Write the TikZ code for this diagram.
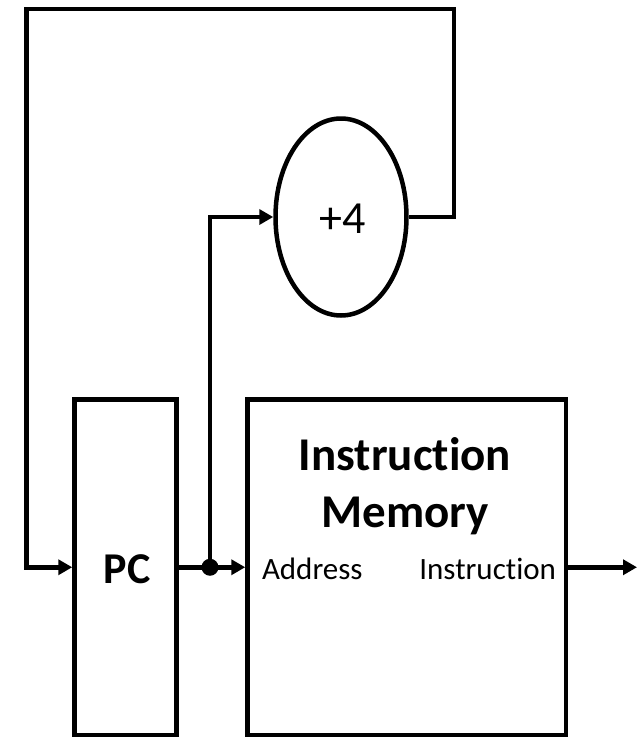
\documentclass[tikz,border=0pt]{standalone}
\usepackage{fontspec}
\setmainfont{Carlito}[Ligatures=NoCommon]
\usetikzlibrary{arrows.meta,shapes.geometric}
\tikzset{
  wire/.style={line width=4.5pt, line join=miter},
  arr/.style={wire, -{Triangle[length=14pt,width=15pt]}},
  blockbox/.style={draw, line width=4.5pt, rectangle, inner sep=0pt},
  lbl/.style={inner sep=0pt, outer sep=0pt},
}
\begin{document}
\begin{tikzpicture}[x=1pt,y=-1pt]
\useasboundingbox (0,0) rectangle (641,737);
% blocks
\node[blockbox, minimum width=102pt, minimum height=335.5pt] (pc) at (125.5,567.25) {};
\node[blockbox, minimum width=318.5pt, minimum height=335.5pt] (im) at (406.75,567.25) {};
\node[draw, ellipse, line width=4.5pt, inner sep=0pt, minimum width=131pt, minimum height=197pt] (add) at (341,217) {};
% texts
\node[lbl, anchor=base] (pctxt) at (127,583) {\fontsize{44}{50}\selectfont\bfseries PC};
\node[lbl, anchor=base] (t1) at (405,470) {\fontsize{47}{56}\selectfont\bfseries Instruction};
\node[lbl, anchor=base] (t2) at (405,527) {\fontsize{47}{56}\selectfont\bfseries Memory};
\node[lbl, anchor=base west] (addr) at (262,579) {\fontsize{31}{36}\selectfont Address};
\node[lbl, anchor=base east] (instr) at (556,579) {\fontsize{31}{36}\selectfont Instruction};
\node[lbl, anchor=base] (plus) at (343,233) {\fontsize{46}{50}\selectfont +4};
% junction
\node[circle, fill, inner sep=0pt, minimum size=17pt] (j) at (210,567.25) {};
% coordinates
\coordinate (tr) at (454,9);
\coordinate (tl) at (26.5,9);
\coordinate (out) at (637,567.25);
% connectors
\draw[arr] (pc.east) -- (im.west);
\draw[arr] (j.center) |- (add.west);
\draw[arr] (add.east) -| (tr) -- (tl) |- (pc.west);
\draw[arr] (im.east) -- (out);
\end{tikzpicture}
\end{document}
